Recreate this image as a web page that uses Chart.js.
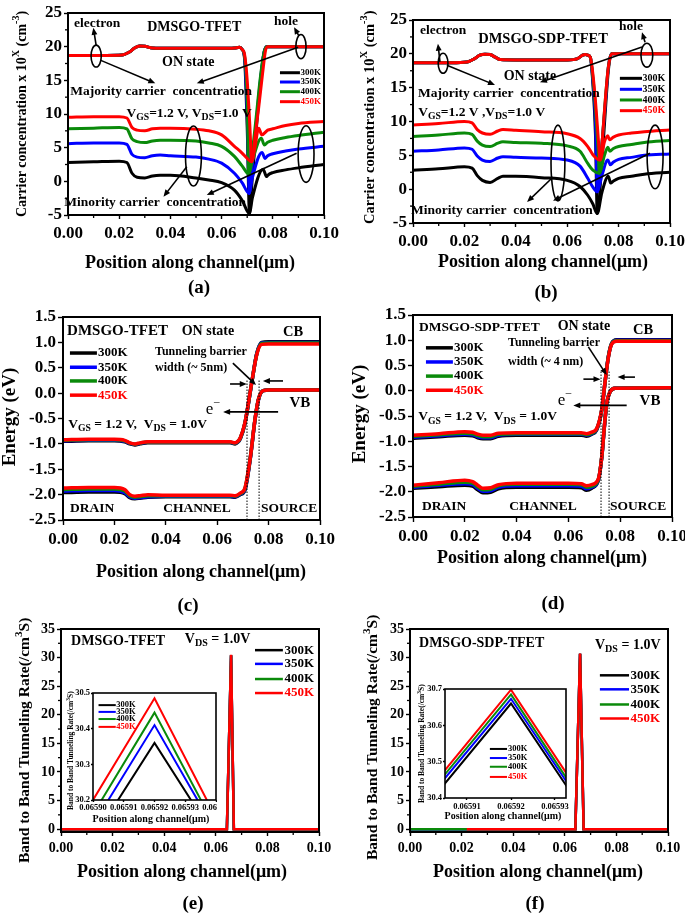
<!DOCTYPE html>
<html>
<head>
<meta charset="utf-8">
<script src="https://cdn.jsdelivr.net/npm/chart.js@4"></script>
<style>
  html, body { margin: 0; padding: 0; background: #fff; }
  #wrap { position: relative; width: 685px; height: 915px; overflow: hidden; background: #fff; }
  #wrap canvas { position: absolute; }
  .lab { position: absolute; font: bold 19px 'Liberation Serif', serif; transform: translate(-50%, -50%); }
</style>
</head>
<body>
<div id="wrap"></div>
<script>
const FAM = "'Liberation Serif', 'Times New Roman', serif";

// ---- shared labels / ticks ----
const TEMPS = ['300K', '350K', '400K', '450K'];
const COLORS = ['#000000', '#0000ff', '#0a8a0a', '#ff0000'];
const X_TICKS = [0, 0.02, 0.04, 0.06, 0.08, 0.1];
const Y_TICKS_AB = [-5, 0, 5, 10, 15, 20, 25];
const Y_TICKS_CD = [-2.5, -2, -1.5, -1, -0.5, 0, 0.5, 1, 1.5];
const Y_TICKS_EF = [0, 5, 10, 15, 20, 25, 30, 35];
const X_TICKS_IN_E = [0.0659, 0.06591, 0.06592, 0.06593, 0.06594];
const Y_TICKS_IN_E = [30.2, 30.3, 30.4, 30.5];
const X_TICKS_IN_F = [0.06591, 0.06592, 0.06593];
const Y_TICKS_IN_F = [30.4, 30.5, 30.6, 30.7];

// ---- (a) carrier concentration, DMSGO-TFET ----
const EL_A_TOP = [[0,18.7],[0.015,18.7],[0.021,18.75],[0.024,19.2],[0.026,19.8],[0.028,20.1],[0.03,20.05],[0.033,19.8],[0.04,19.75],[0.05,19.75],[0.06,19.75],[0.065,19.8],[0.067,19.9],[0.068,19.6]];
const EL_A_300 = [[0.069,18.0],[0.070,8],[0.0709,-4.8],[0.072,-2.5],[0.0762,1.8],[0.0776,0.7],[0.078,0.9],[0.08,1.3],[0.085,1.7],[0.09,2.0],[0.1,2.5]];
const EL_A_350 = [[0.069,18.3],[0.070,10],[0.0708,-1.8],[0.072,0.5],[0.0758,4.3],[0.077,3.4],[0.078,3.8],[0.08,4.1],[0.085,4.5],[0.09,4.8],[0.1,5.2]];
const EL_A_400 = [[0.069,18.5],[0.070,12],[0.0706,1.1],[0.072,3.0],[0.0755,6.4],[0.0767,5.4],[0.078,5.8],[0.08,6.1],[0.085,6.5],[0.09,6.8],[0.1,7.3]];
const EL_A_450 = [[0.069,18.8],[0.070,15],[0.071,8.5],[0.0718,2.9],[0.073,5.0],[0.0745,7.9],[0.0757,6.9],[0.078,7.6],[0.08,7.8],[0.085,8.3],[0.09,8.6],[0.1,8.9]];
const HO_A_300 = [[0,2.8],[0.01,2.9],[0.02,3.0],[0.023,2.8],[0.025,1.2],[0.027,0.6],[0.03,0.5],[0.033,0.8],[0.036,0.9],[0.04,0.9],[0.05,0.5],[0.055,0.2],[0.06,-0.2],[0.065,-1.3],[0.068,-2.8],[0.0709,-4.8],[0.072,0.5],[0.0735,7.5],[0.075,14],[0.0765,19],[0.0775,20],[0.08,20],[0.1,20]];
const HO_A_350 = [[0,5.6],[0.01,5.7],[0.02,5.7],[0.023,5.5],[0.025,4.0],[0.027,3.6],[0.03,3.5],[0.033,3.8],[0.036,3.9],[0.04,3.8],[0.05,3.6],[0.055,3.3],[0.06,2.7],[0.065,1.2],[0.068,-0.2],[0.0708,-1.8],[0.072,2.5],[0.0735,8.5],[0.075,14.5],[0.0765,19],[0.0775,20],[0.08,20],[0.1,20]];
const HO_A_400 = [[0,7.8],[0.01,7.9],[0.02,8.0],[0.023,7.8],[0.025,6.3],[0.027,5.9],[0.03,5.75],[0.033,6.0],[0.036,6.1],[0.04,6.1],[0.05,6.0],[0.055,5.7],[0.06,5.2],[0.065,3.7],[0.068,2.3],[0.0706,1.1],[0.072,4.5],[0.0735,9.5],[0.075,15],[0.0765,19],[0.0775,20],[0.08,20],[0.1,20]];
const HO_A_450 = [[0,9.5],[0.01,9.6],[0.02,9.6],[0.023,9.4],[0.025,8.0],[0.027,7.6],[0.03,7.5],[0.033,7.8],[0.036,7.9],[0.04,7.9],[0.05,7.75],[0.055,7.5],[0.06,6.9],[0.065,5.2],[0.068,4.2],[0.070,3.4],[0.0718,2.9],[0.073,6.5],[0.0745,11],[0.076,16],[0.0772,19.5],[0.078,20],[0.08,20],[0.1,20]];

// ---- (b) carrier concentration, DMSGO-SDP-TFET ----
const EL_B_TOP = [[0,18.7],[0.015,18.7],[0.021,18.8],[0.024,19.3],[0.026,19.8],[0.028,19.95],[0.03,19.9],[0.032,19.5],[0.034,19.15],[0.04,19.1],[0.05,19.1],[0.06,19.1],[0.064,19.3],[0.066,19.8],[0.067,19.9],[0.068,19.8],[0.069,19.5]];
const EL_B_300 = [[0.070,15.5],[0.071,8],[0.0717,-3.6],[0.0735,-0.5],[0.076,1.9],[0.0769,0.9],[0.078,1.2],[0.08,1.6],[0.085,1.9],[0.09,2.2],[0.1,2.5]];
const EL_B_350 = [[0.070,16],[0.071,10],[0.0717,-0.4],[0.0735,2],[0.0758,4.3],[0.0768,3.6],[0.078,4.0],[0.08,4.4],[0.085,4.7],[0.09,5.0],[0.1,5.2]];
const EL_B_400 = [[0.070,16.5],[0.071,12],[0.072,6],[0.0725,2.35],[0.0745,5],[0.0758,6.2],[0.0766,5.6],[0.078,6.0],[0.08,6.3],[0.085,6.6],[0.09,6.9],[0.1,7.2]];
const EL_B_450 = [[0.070,17],[0.071,13],[0.072,8],[0.0728,4.3],[0.0745,7],[0.0758,7.9],[0.0764,7.3],[0.078,7.7],[0.08,8.0],[0.085,8.3],[0.09,8.5],[0.1,8.75]];
const HO_B_300 = [[0,2.8],[0.01,3.0],[0.02,3.3],[0.023,3.1],[0.025,2.0],[0.027,1.3],[0.03,1.0],[0.033,1.6],[0.035,1.9],[0.04,1.9],[0.05,1.7],[0.06,1.3],[0.065,0.4],[0.068,-0.9],[0.070,-2.2],[0.0717,-3.6],[0.0735,4],[0.075,12.5],[0.076,17.5],[0.0772,20],[0.08,20],[0.1,20]];
const HO_B_350 = [[0,5.6],[0.01,5.8],[0.02,6.1],[0.023,5.9],[0.025,4.9],[0.027,4.3],[0.03,4.1],[0.033,4.6],[0.035,4.8],[0.04,4.7],[0.05,4.6],[0.06,4.3],[0.065,3.4],[0.068,1.6],[0.070,0.3],[0.0717,-0.4],[0.0735,6.5],[0.075,13.5],[0.076,18],[0.0772,20],[0.08,20],[0.1,20]];
const HO_B_400 = [[0,7.8],[0.01,8.0],[0.02,8.3],[0.023,8.1],[0.025,7.1],[0.027,6.5],[0.03,6.3],[0.033,6.8],[0.035,7.0],[0.04,6.9],[0.05,6.8],[0.06,6.4],[0.065,5.6],[0.068,3.8],[0.070,2.8],[0.0725,2.35],[0.0738,8],[0.075,14],[0.076,18],[0.0772,20],[0.08,20],[0.1,20]];
const HO_B_450 = [[0,9.5],[0.01,9.7],[0.02,10.0],[0.023,9.8],[0.025,8.8],[0.027,8.3],[0.03,8.1],[0.033,8.6],[0.035,8.8],[0.04,8.7],[0.05,8.5],[0.06,8.2],[0.065,7.5],[0.068,6.3],[0.070,5.1],[0.0728,4.3],[0.074,9],[0.075,14],[0.076,18],[0.0773,20],[0.08,20],[0.1,20]];

// ---- (c) energy bands, DMSGO-TFET ----
const CB_C_300 = [[0,-0.95],[0.01,-0.94],[0.02,-0.94],[0.024,-0.96],[0.026,-1.0],[0.028,-1.02],[0.03,-1.0],[0.033,-0.98],[0.04,-0.98],[0.05,-0.98],[0.06,-0.98],[0.065,-0.98],[0.067,-1.0],[0.068,-0.97],[0.069,-0.9],[0.0708,-0.6],[0.0734,0.19],[0.0754,0.78],[0.0773,1.0],[0.08,1.01],[0.09,1.01],[0.1,1.01]];
const CB_C_350 = [[0,-0.94],[0.01,-0.93],[0.02,-0.93],[0.024,-0.95],[0.026,-0.99],[0.028,-1.01],[0.03,-0.99],[0.033,-0.97],[0.04,-0.97],[0.05,-0.97],[0.06,-0.97],[0.065,-0.97],[0.067,-0.99],[0.068,-0.96],[0.069,-0.89],[0.0708,-0.59],[0.0734,0.19],[0.0754,0.78],[0.0773,0.99],[0.08,1.0],[0.09,1.0],[0.1,1.0]];
const CB_C_400 = [[0,-0.93],[0.01,-0.92],[0.02,-0.92],[0.024,-0.94],[0.026,-0.985],[0.028,-1.005],[0.03,-0.985],[0.033,-0.965],[0.04,-0.965],[0.05,-0.965],[0.06,-0.965],[0.065,-0.965],[0.067,-0.985],[0.068,-0.955],[0.069,-0.885],[0.0708,-0.585],[0.0734,0.195],[0.0754,0.77],[0.0773,0.98],[0.08,0.99],[0.09,0.99],[0.1,0.99]];
const CB_C_450 = [[0,-0.92],[0.01,-0.91],[0.02,-0.91],[0.024,-0.93],[0.026,-0.98],[0.028,-1.0],[0.03,-0.98],[0.033,-0.96],[0.04,-0.96],[0.05,-0.96],[0.06,-0.96],[0.065,-0.96],[0.067,-0.98],[0.068,-0.95],[0.069,-0.88],[0.0708,-0.58],[0.0734,0.2],[0.0754,0.76],[0.0773,0.96],[0.08,0.97],[0.09,0.97],[0.1,0.97]];
const VB_C_300 = [[0,-1.96],[0.01,-1.95],[0.02,-1.95],[0.024,-1.98],[0.026,-2.06],[0.028,-2.08],[0.03,-2.07],[0.033,-2.05],[0.04,-2.04],[0.05,-2.04],[0.06,-2.04],[0.065,-2.04],[0.067,-2.05],[0.069,-2.0],[0.0708,-1.91],[0.0728,-1.32],[0.0747,-0.53],[0.076,-0.14],[0.0779,0.05],[0.08,0.06],[0.1,0.06]];
const VB_C_350 = [[0,-1.93],[0.01,-1.92],[0.02,-1.92],[0.024,-1.96],[0.026,-2.04],[0.028,-2.07],[0.03,-2.06],[0.033,-2.04],[0.04,-2.03],[0.05,-2.03],[0.06,-2.03],[0.065,-2.03],[0.067,-2.04],[0.069,-1.99],[0.0708,-1.9],[0.0728,-1.31],[0.0747,-0.53],[0.076,-0.14],[0.0779,0.05],[0.08,0.06],[0.1,0.06]];
const VB_C_400 = [[0,-1.9],[0.01,-1.89],[0.02,-1.89],[0.024,-1.93],[0.026,-2.02],[0.028,-2.05],[0.03,-2.04],[0.033,-2.02],[0.04,-2.02],[0.05,-2.02],[0.06,-2.02],[0.065,-2.02],[0.067,-2.03],[0.069,-1.98],[0.0708,-1.88],[0.0728,-1.3],[0.0747,-0.52],[0.076,-0.13],[0.0779,0.05],[0.08,0.06],[0.1,0.06]];
const VB_C_450 = [[0,-1.87],[0.01,-1.86],[0.02,-1.86],[0.024,-1.9],[0.026,-2.0],[0.028,-2.03],[0.03,-2.02],[0.033,-2.0],[0.04,-2.01],[0.05,-2.01],[0.06,-2.01],[0.065,-2.01],[0.067,-2.02],[0.069,-1.97],[0.0708,-1.87],[0.0728,-1.3],[0.0747,-0.52],[0.076,-0.13],[0.0779,0.05],[0.08,0.06],[0.1,0.06]];

// ---- (d) energy bands, DMSGO-SDP-TFET ----
const CB_D_300 = [[0,-0.94],[0.01,-0.91],[0.02,-0.88],[0.023,-0.89],[0.025,-0.93],[0.027,-0.95],[0.03,-0.95],[0.033,-0.9],[0.04,-0.88],[0.05,-0.88],[0.06,-0.88],[0.065,-0.88],[0.067,-0.9],[0.069,-0.86],[0.0709,-0.78],[0.0729,-0.38],[0.0741,0.15],[0.0754,0.67],[0.0767,0.94],[0.0786,1.01],[0.1,1.01]];
const CB_D_350 = [[0,-0.92],[0.01,-0.89],[0.02,-0.86],[0.023,-0.87],[0.025,-0.91],[0.027,-0.93],[0.03,-0.93],[0.033,-0.88],[0.04,-0.86],[0.05,-0.86],[0.06,-0.86],[0.065,-0.86],[0.067,-0.88],[0.069,-0.85],[0.0709,-0.77],[0.0729,-0.37],[0.0741,0.15],[0.0754,0.66],[0.0767,0.93],[0.0786,1.0],[0.1,1.0]];
const CB_D_400 = [[0,-0.9],[0.01,-0.87],[0.02,-0.84],[0.023,-0.85],[0.025,-0.89],[0.027,-0.91],[0.03,-0.91],[0.033,-0.86],[0.04,-0.85],[0.05,-0.85],[0.06,-0.85],[0.065,-0.85],[0.067,-0.87],[0.069,-0.84],[0.0709,-0.76],[0.0729,-0.37],[0.0741,0.15],[0.0754,0.66],[0.0767,0.93],[0.0786,0.99],[0.1,0.99]];
const CB_D_450 = [[0,-0.88],[0.01,-0.85],[0.02,-0.81],[0.023,-0.82],[0.025,-0.86],[0.027,-0.88],[0.03,-0.88],[0.033,-0.84],[0.04,-0.83],[0.05,-0.83],[0.06,-0.83],[0.065,-0.83],[0.067,-0.85],[0.069,-0.82],[0.0709,-0.75],[0.0729,-0.36],[0.0741,0.15],[0.0754,0.65],[0.0767,0.92],[0.0786,0.98],[0.1,0.98]];
const VB_D_300 = [[0,-1.93],[0.01,-1.9],[0.02,-1.87],[0.023,-1.89],[0.025,-1.96],[0.027,-2.02],[0.03,-2.01],[0.033,-1.94],[0.04,-1.91],[0.05,-1.91],[0.06,-1.91],[0.065,-1.92],[0.067,-1.97],[0.069,-1.93],[0.0716,-1.77],[0.0729,-1.31],[0.0739,-0.71],[0.0748,-0.25],[0.0761,-0.02],[0.078,0.05],[0.1,0.06]];
const VB_D_350 = [[0,-1.91],[0.01,-1.87],[0.02,-1.84],[0.023,-1.86],[0.025,-1.93],[0.027,-1.99],[0.03,-1.98],[0.033,-1.91],[0.04,-1.88],[0.05,-1.88],[0.06,-1.88],[0.065,-1.89],[0.067,-1.94],[0.069,-1.91],[0.0716,-1.76],[0.0729,-1.31],[0.0739,-0.71],[0.0748,-0.25],[0.0761,-0.02],[0.078,0.05],[0.1,0.06]];
const VB_D_400 = [[0,-1.89],[0.01,-1.85],[0.02,-1.81],[0.023,-1.83],[0.025,-1.9],[0.027,-1.96],[0.03,-1.95],[0.033,-1.88],[0.04,-1.85],[0.05,-1.85],[0.06,-1.85],[0.065,-1.86],[0.067,-1.91],[0.069,-1.89],[0.0716,-1.75],[0.0729,-1.3],[0.0739,-0.7],[0.0748,-0.25],[0.0761,-0.02],[0.078,0.05],[0.1,0.06]];
const VB_D_450 = [[0,-1.87],[0.01,-1.82],[0.02,-1.77],[0.023,-1.8],[0.025,-1.87],[0.027,-1.93],[0.03,-1.92],[0.033,-1.86],[0.04,-1.83],[0.05,-1.83],[0.06,-1.83],[0.065,-1.84],[0.067,-1.88],[0.069,-1.86],[0.0716,-1.74],[0.0729,-1.3],[0.0739,-0.7],[0.0748,-0.25],[0.0761,-0.02],[0.078,0.05],[0.1,0.06]];

// ---- (e),(f) band to band tunneling rate ----
const BTBT_E_300 = [[0,0],[0.0643,0],[0.06592,30.36],[0.0670,0],[0.1,0]];
const BTBT_E_350 = [[0,0],[0.0643,0],[0.06592,30.41],[0.0670,0],[0.1,0]];
const BTBT_E_400 = [[0,0],[0.0643,0],[0.06592,30.445],[0.0670,0],[0.1,0]];
const BTBT_E_450 = [[0,0],[0.0643,0],[0.06592,30.485],[0.0670,0],[0.1,0]];
const BTBT_F_300 = [[0,0],[0.0641,0],[0.06592,30.66],[0.0673,0],[0.1,0]];
const BTBT_F_350 = [[0,0],[0.0641,0],[0.06592,30.673],[0.0673,0],[0.1,0]];
const BTBT_F_400 = [[0,0],[0.0641,0],[0.06592,30.685],[0.0673,0],[0.1,0]];
const BTBT_F_450 = [[0.022,0],[0.0641,0],[0.06592,30.698],[0.0673,0],[0.1,0]];
// insets (zoom on the peak)
const IN_E_300 = [[0.0659,30.09],[0.06592,30.36],[0.06594,30.09]];
const IN_E_350 = [[0.0659,30.13],[0.06592,30.41],[0.06594,30.11]];
const IN_E_400 = [[0.0659,30.16],[0.06592,30.445],[0.06594,30.12]];
const IN_E_450 = [[0.0659,30.2],[0.06592,30.485],[0.06594,30.15]];
const IN_F_300 = [[0.0659,30.367],[0.06592,30.66],[0.06594,30.30]];
const IN_F_350 = [[0.0659,30.382],[0.06592,30.673],[0.06594,30.311]];
const IN_F_400 = [[0.0659,30.392],[0.06592,30.685],[0.06594,30.32]];
const IN_F_450 = [[0.0659,30.403],[0.06592,30.698],[0.06594,30.333]];

// ---------------------------------------------------------------
const wrap = document.getElementById('wrap');

function ds(pts, k, lw) {
  return { data: pts.map(([x, y]) => ({ x, y })), borderColor: COLORS[k], borderWidth: lw,
           order: 3 - k, pointRadius: 0, fill: false };
}

function richText(ctx, segs, x, y, size, align, color, weight) {
  if (typeof segs === 'string') segs = [[segs, '']];
  const w8 = weight || 'bold';
  const parts = segs.map(([t, m]) => ({ t, m, s: m ? size * 0.72 : size }));
  let tot = 0;
  parts.forEach(p => { ctx.font = `${w8} ${p.s}px ${FAM}`; p.w = ctx.measureText(p.t).width; tot += p.w; });
  let cx = align === 'center' ? x - tot / 2 : align === 'right' ? x - tot : x;
  ctx.textAlign = 'left';
  ctx.textBaseline = 'middle';
  ctx.fillStyle = color || '#000';
  parts.forEach(p => {
    ctx.font = `${w8} ${p.s}px ${FAM}`;
    const dy = p.m === 'sub' ? size * 0.3 : p.m === 'sup' ? -size * 0.38 : 0;
    ctx.fillText(p.t, cx, y + dy);
    cx += p.w;
  });
}

function arrow(ctx, x1, y1, x2, y2, h) {
  const a = Math.atan2(y2 - y1, x2 - x1);
  ctx.beginPath(); ctx.moveTo(x1, y1);
  ctx.lineTo(x2 - Math.cos(a) * h * 0.6, y2 - Math.sin(a) * h * 0.6); ctx.stroke();
  ctx.beginPath(); ctx.moveTo(x2, y2);
  ctx.lineTo(x2 - h * Math.cos(a) + h * 0.42 * Math.sin(a), y2 - h * Math.sin(a) - h * 0.42 * Math.cos(a));
  ctx.lineTo(x2 - h * Math.cos(a) - h * 0.42 * Math.sin(a), y2 - h * Math.sin(a) + h * 0.42 * Math.cos(a));
  ctx.closePath(); ctx.fill();
}

function annPlugin(g, cfg) {
  const A = cfg.ann || {};
  return {
    id: 'ann',
    beforeDatasetsDraw(chart) {
      if (!A.white) return;
      const c = chart.chartArea;
      chart.ctx.fillStyle = '#fff';
      chart.ctx.fillRect(c.left, c.top, c.width, c.height);
    },
    afterDraw(chart) {
      const ctx = chart.ctx, ca = chart.chartArea, xs = chart.scales.x, ys = chart.scales.y;
      const X = v => xs.getPixelForValue(v), Y = v => ys.getPixelForValue(v);
      ctx.save();
      ctx.strokeStyle = '#000'; ctx.fillStyle = '#000';
      ctx.lineWidth = cfg.frame;
      ctx.strokeRect(ca.left, ca.top, ca.width, ca.height);
      if (cfg.minor) {
        ctx.lineWidth = 1.3;
        const xt = cfg.xt, yt = cfg.yt;
        for (let i = 0; i < xt.length - 1; i++) {
          const px = X((xt[i] + xt[i + 1]) / 2);
          ctx.beginPath(); ctx.moveTo(px, ca.bottom); ctx.lineTo(px, ca.bottom + 3); ctx.stroke();
        }
        for (let i = 0; i < yt.length - 1; i++) {
          const py = Y((yt[i] + yt[i + 1]) / 2);
          ctx.beginPath(); ctx.moveTo(ca.left, py); ctx.lineTo(ca.left - 3, py); ctx.stroke();
        }
      }
      (A.vlines || []).forEach(([x, y0, y1]) => {
        ctx.lineWidth = 1; ctx.setLineDash([1.5, 1.5]);
        ctx.beginPath(); ctx.moveTo(X(x), Y(y0)); ctx.lineTo(X(x), Y(y1)); ctx.stroke();
        ctx.setLineDash([]);
      });
      (A.ellipses || []).forEach(([x, y, rx, ry]) => {
        ctx.lineWidth = 1.6;
        ctx.beginPath();
        ctx.ellipse(X(x), Y(y), Math.abs(X(x + rx) - X(x)), Math.abs(Y(y + ry) - Y(y)), 0, 0, Math.PI * 2);
        ctx.stroke();
      });
      (A.arrows || []).forEach(([x1, y1, x2, y2]) => {
        ctx.lineWidth = 1.6;
        arrow(ctx, X(x1), Y(y1), X(x2), Y(y2), A.head || 7);
      });
      if (A.legend) {
        const L = A.legend;
        TEMPS.forEach((t, k) => {
          const py = Y(L.rows[k]);
          ctx.strokeStyle = COLORS[k]; ctx.lineWidth = L.lw;
          ctx.beginPath(); ctx.moveTo(X(L.x1), py); ctx.lineTo(X(L.x2), py); ctx.stroke();
          richText(ctx, t, X(L.xt), py, L.size, 'left', k === 3 ? '#ff0000' : '#000');
        });
        ctx.strokeStyle = '#000';
      }
      (A.texts || []).forEach(([segs, x, y, size, align, weight]) => {
        richText(ctx, segs, X(x), Y(y), size, align || 'center', '#000', weight);
      });
      (A.titles || []).forEach(t => {
        const cx = t.x - g.left, cy = t.y - g.top;
        ctx.save();
        ctx.translate(cx, cy);
        if (t.rot) ctx.rotate(-Math.PI / 2);
        richText(ctx, t.segs, 0, 0, t.size, t.align || 'center', '#000');
        ctx.restore();
      });
      ctx.restore();
    }
  };
}

function panel(g, cfg) {
  const cv = document.createElement('canvas');
  cv.width = g.w; cv.height = g.h;
  cv.style.left = g.left + 'px'; cv.style.top = g.top + 'px';
  cv.style.width = g.w + 'px'; cv.style.height = g.h + 'px';
  cv.style.zIndex = cfg.z || 1;
  wrap.appendChild(cv);
  const tf = { family: FAM, size: cfg.tick, weight: 'bold' };
  return new Chart(cv, {
    type: 'line',
    data: { datasets: cfg.datasets },
    options: {
      responsive: false, animation: false, devicePixelRatio: 1, events: [],
      layout: { autoPadding: false, padding: { left: 0, top: g.T - g.top, right: g.left + g.w - g.R, bottom: 0 } },
      plugins: { legend: { display: false }, tooltip: { enabled: false } },
      elements: { point: { radius: 0 }, line: { tension: 0, cubicInterpolationMode: cfg.mono ? 'monotone' : 'default' } },
      scales: {
        x: {
          type: 'linear', min: cfg.xr[0], max: cfg.xr[1], bounds: 'data',
          afterBuildTicks: s => { s.ticks = cfg.xt.map(v => ({ value: v })); },
          afterFit: s => { s.height = g.top + g.h - g.B; s.paddingLeft = 0; s.paddingRight = 0; },
          ticks: { font: tf, color: '#000', autoSkip: false, maxRotation: 0, minRotation: 0, padding: cfg.xpad,
                   callback: v => Number(v).toFixed(cfg.xd) },
          grid: { drawOnChartArea: false, tickLength: cfg.tl, tickColor: '#000', tickWidth: 1.4 },
          border: { display: false }
        },
        y: {
          type: 'linear', min: cfg.yr[0], max: cfg.yr[1], bounds: 'data',
          afterBuildTicks: s => { s.ticks = cfg.yt.map(v => ({ value: v })); },
          afterFit: s => { s.width = g.L - g.left; s.paddingTop = 0; s.paddingBottom = 0; },
          ticks: { font: tf, color: '#000', autoSkip: false, padding: cfg.ypad,
                   callback: v => Number(v).toFixed(cfg.yd) },
          grid: { drawOnChartArea: false, tickLength: cfg.tl, tickColor: '#000', tickWidth: 1.4 },
          border: { display: false }
        }
      }
    },
    plugins: [annPlugin(g, cfg)]
  });
}

const XT = 'Position along channel(\u03bcm)';
const CARRIER_T = [['Carrier concentration x 10', ''], ['X', 'sup'], [' (cm', ''], ['-3', 'sup'], [')', '']];
const BTBT_T = [['Band to Band Tunneling Rate(/cm', ''], ['3', 'sup'], ['S)', '']];
const VGS_A = [['V', ''], ['GS', 'sub'], ['=1.2 V, V', ''], ['DS', 'sub'], ['=1.0 V', '']];
const VGS_B = [['V', ''], ['GS', 'sub'], ['=1.2 V ,V', ''], ['DS', 'sub'], ['=1.0 V', '']];
const VGS_C = [['V', ''], ['GS', 'sub'], [' = 1.2 V,  V', ''], ['DS', 'sub'], [' = 1.0V', '']];
const VDS_E = [['V', ''], ['DS', 'sub'], [' = 1.0V', '']];
const EM = [['e', ''], ['\u2212', 'sup']];

// ---- (a) ----
const TAILS_A = [EL_A_300, EL_A_350, EL_A_400, EL_A_450];
const HOLES_A = [HO_A_300, HO_A_350, HO_A_400, HO_A_450];
const GA = { left: 0, top: 0, w: 340, h: 300, L: 68, T: 13, R: 324, B: 215 };
panel(GA, {
  datasets: [0, 1, 2, 3].flatMap(k => [ds(EL_A_TOP.concat(TAILS_A[k]), k, 3), ds(HOLES_A[k], k, 3)]),
  xr: [0, 0.1], yr: [-5, 25], xt: X_TICKS, yt: Y_TICKS_AB, xd: 2, yd: 0, tick: 17, tl: 4, xpad: 4, ypad: 2,
  frame: 2, minor: true, mono: true,
  ann: {
    texts: [
      ['electron', 0.0114, 23.5, 13.5], ['DMSGO-TFET', 0.0493, 22.9, 14], ['hole', 0.0852, 23.8, 13.5],
      ['ON state', 0.047, 17.7, 14], ['Majority carrier  concentration', 0.0364, 13.4, 13.5],
      [VGS_A, 0.0473, 10.1, 13.5], ['Minority carrier  concentration', 0.034, -3.1, 13.5]
    ],
    ellipses: [[0.011, 18.6, 0.002, 1.63], [0.091, 20, 0.002, 1.8], [0.049, 3.76, 0.0031, 4.46], [0.093, 4.05, 0.0031, 4.2]],
    arrows: [[0.011, 20.2, 0.0099, 22.8], [0.0126, 18.0, 0.0341, 14.56], [0.0902, 21.6, 0.0883, 22.9],
             [0.0899, 19.9, 0.0503, 14.56], [0.0464, 2.17, 0.0373, -2.28], [0.0893, 4.16, 0.0542, -2.03]],
    legend: { x1: 0.0828, x2: 0.0906, xt: 0.0908, rows: [16.13, 14.75, 13.31, 11.83], size: 9, lw: 3 },
    titles: [
      { segs: XT, x: 190, y: 263, size: 18 },
      { segs: CARRIER_T, x: 22, y: 217, size: 14, rot: true, align: 'left' }
    ]
  }
});

// ---- (b) ----
const TAILS_B = [EL_B_300, EL_B_350, EL_B_400, EL_B_450];
const HOLES_B = [HO_B_300, HO_B_350, HO_B_400, HO_B_450];
const GB = { left: 340, top: 0, w: 345, h: 300, L: 413, T: 20, R: 670, B: 223 };
panel(GB, {
  datasets: [0, 1, 2, 3].flatMap(k => [ds(EL_B_TOP.concat(TAILS_B[k]), k, 3), ds(HOLES_B[k], k, 3)]),
  xr: [0, 0.1], yr: [-5, 25], xt: X_TICKS, yt: Y_TICKS_AB, xd: 2, yd: 0, tick: 17, tl: 4, xpad: 4, ypad: 2,
  frame: 2, minor: true, mono: true,
  ann: {
    texts: [
      ['electron', 0.0117, 23.4, 13.5], ['DMSGO-SDP-TFET', 0.0506, 22.1, 14.5], ['hole', 0.0848, 24.0, 13.5],
      ['ON state', 0.0455, 16.7, 14], ['Majority carrier  concentration', 0.0373, 14.1, 13.5],
      [VGS_B, 0.002, 11.3, 13.5, 'left'], ['Minority carrier  concentration', 0.0346, -3.2, 13.5]
    ],
    ellipses: [[0.0117, 18.6, 0.0019, 1.48], [0.091, 19.8, 0.0023, 1.77], [0.0564, 3.87, 0.0027, 5.6], [0.0942, 4.76, 0.0031, 4.7]],
    arrows: [[0.0105, 18.8, 0.0097, 21.5], [0.0132, 18.3, 0.0319, 15.4], [0.0903, 21.7, 0.0891, 23.2],
             [0.0891, 21.0, 0.0494, 15.8], [0.0545, 1.8, 0.0444, -1.9], [0.0922, 5.3, 0.0545, -1.7]],
    legend: { x1: 0.0805, x2: 0.0891, xt: 0.0893, rows: [16.38, 14.76, 13.18, 11.6], size: 10, lw: 3 },
    titles: [
      { segs: XT, x: 543, y: 262, size: 18 },
      { segs: CARRIER_T, x: 370, y: 224, size: 14.5, rot: true, align: 'left' }
    ]
  }
});

// ---- (c) ----
const CB_C = [CB_C_300, CB_C_350, CB_C_400, CB_C_450];
const VB_C = [VB_C_300, VB_C_350, VB_C_400, VB_C_450];
const GC = { left: 0, top: 300, w: 340, h: 300, L: 63, T: 317, R: 320, B: 520 };
panel(GC, {
  datasets: [0, 1, 2, 3].flatMap(k => [ds(CB_C[k], k, 3.5), ds(VB_C[k], k, 3.5)]),
  xr: [0, 0.1], yr: [-2.5, 1.5], xt: X_TICKS, yt: Y_TICKS_CD, xd: 2, yd: 1, tick: 17, tl: 5, xpad: 4, ypad: 2,
  frame: 2, minor: false, mono: true,
  ann: {
    texts: [
      ['DMSGO-TFET', 0.0016, 1.22, 15, 'left'], ['ON state', 0.0564, 1.22, 14], ['CB', 0.0895, 1.2, 14.5],
      ['Tunneling barrier', 0.0358, 0.81, 12, 'left'], ['width (~ 5nm)', 0.0358, 0.5, 12, 'left'],
      [EM, 0.0584, -0.33, 17, 'center', 'normal'], ['VB', 0.0922, -0.19, 15],
      [VGS_C, 0.002, -0.61, 13.5, 'left'],
      ['DRAIN', 0.0027, -2.28, 13.5, 'left'], ['CHANNEL', 0.0521, -2.28, 13.5], ['SOURCE', 0.088, -2.28, 13.5]
    ],
    arrows: [[0.0661, 0.59, 0.0751, 0.16], [0.065, 0.18, 0.0715, 0.18], [0.0856, 0.24, 0.0778, 0.24], [0.0837, -0.37, 0.0623, -0.37]],
    vlines: [[0.0716, -2.5, 0.25], [0.0763, -2.5, 0.25]],
    legend: { x1: 0.0027, x2: 0.0132, xt: 0.0136, rows: [0.79, 0.51, 0.24, -0.04], size: 13, lw: 3.5 },
    titles: [
      { segs: XT, x: 201, y: 572, size: 18 },
      { segs: 'Energy (eV)', x: 10, y: 417, size: 19, rot: true }
    ]
  }
});

// ---- (d) ----
const CB_D = [CB_D_300, CB_D_350, CB_D_400, CB_D_450];
const VB_D = [VB_D_300, VB_D_350, VB_D_400, VB_D_450];
const GD = { left: 340, top: 300, w: 345, h: 300, L: 413, T: 315, R: 672, B: 517 };
panel(GD, {
  datasets: [0, 1, 2, 3].flatMap(k => [ds(CB_D[k], k, 3.5), ds(VB_D[k], k, 3.5)]),
  xr: [0, 0.1], yr: [-2.5, 1.5], xt: X_TICKS, yt: Y_TICKS_CD, xd: 2, yd: 1, tick: 17, tl: 5, xpad: 4, ypad: 2,
  frame: 2, minor: false, mono: true,
  ann: {
    texts: [
      ['DMSGO-SDP-TFET', 0.0023, 1.26, 13.5, 'left'], ['ON state', 0.066, 1.28, 14], ['CB', 0.0888, 1.2, 14.5],
      ['Tunneling barrier', 0.0367, 0.95, 12, 'left'], ['width (~ 4 nm)', 0.0367, 0.57, 12, 'left'],
      [EM, 0.0587, -0.2, 17, 'center', 'normal'], ['VB', 0.0915, -0.2, 15],
      [VGS_C, 0.002, -0.52, 13.5, 'left'],
      ['DRAIN', 0.0035, -2.3, 13.5, 'left'], ['CHANNEL', 0.0502, -2.3, 13.5], ['SOURCE', 0.0869, -2.3, 13.5]
    ],
    arrows: [[0.0677, 0.87, 0.0748, 0.31], [0.0658, 0.23, 0.0724, 0.23], [0.0857, 0.27, 0.079, 0.27], [0.0825, -0.29, 0.0619, -0.29]],
    vlines: [[0.0726, -2.5, 0.4], [0.0757, -2.5, 0.4]],
    legend: { x1: 0.005, x2: 0.0154, xt: 0.0158, rows: [0.85, 0.57, 0.29, 0.01], size: 13, lw: 3.5 },
    titles: [
      { segs: XT, x: 542, y: 558, size: 18 },
      { segs: 'Energy (eV)', x: 360, y: 414, size: 19, rot: true }
    ]
  }
});

// ---- (e) ----
const BT_E = [BTBT_E_300, BTBT_E_350, BTBT_E_400, BTBT_E_450];
const GE = { left: 0, top: 600, w: 340, h: 315, L: 61, T: 629, R: 319, B: 832 };
panel(GE, {
  datasets: [0, 1, 2, 3].map(k => ds(BT_E[k], k, 2.5)),
  xr: [0, 0.1], yr: [-0.5, 35], xt: X_TICKS, yt: Y_TICKS_EF, xd: 2, yd: 0, tick: 14, tl: 4, xpad: 4, ypad: 2,
  frame: 2, minor: true,
  ann: {
    texts: [['DMSGO-TFET', 0.0039, 32.9, 14, 'left'], [VDS_E, 0.048, 33.25, 14, 'left']],
    legend: { x1: 0.0752, x2: 0.086, xt: 0.0866, rows: [31.3, 28.9, 26.25, 23.8], size: 13, lw: 2.5 },
    titles: [
      { segs: XT, x: 182, y: 872, size: 18 },
      { segs: BTBT_T, x: 25, y: 863, size: 15.5, rot: true, align: 'left' }
    ]
  }
});
const IE = [IN_E_300, IN_E_350, IN_E_400, IN_E_450];
const GIE = { left: 50, top: 683, w: 167, h: 145, L: 93, T: 693, R: 216, B: 800 };
panel(GIE, {
  datasets: [0, 1, 2, 3].map(k => ds(IE[k], k, 2)),
  xr: [0.0659, 0.06594], yr: [30.2, 30.5], xt: X_TICKS_IN_E, yt: Y_TICKS_IN_E, xd: 5, yd: 1, tick: 8.5, tl: 2, xpad: 1, ypad: 1,
  frame: 1.6, minor: false, z: 5,
  ann: {
    white: true,
    legend: { x1: 0.0659018, x2: 0.0659074, xt: 0.0659076, rows: [30.466, 30.447, 30.427, 30.405], size: 8.5, lw: 2 },
    head: 5,
    titles: [
      { segs: XT, x: 151, y: 819, size: 10 },
      { segs: BTBT_T, x: 71, y: 810, size: 7.5, rot: true, align: 'left' }
    ]
  }
});

// ---- (f) ----
const BT_F = [BTBT_F_300, BTBT_F_350, BTBT_F_400, BTBT_F_450];
const GF = { left: 340, top: 600, w: 345, h: 315, L: 410, T: 629, R: 668, B: 832 };
panel(GF, {
  datasets: [0, 1, 2, 3].map(k => ds(BT_F[k], k, 2.5)),
  xr: [0, 0.1], yr: [-0.5, 35], xt: X_TICKS, yt: Y_TICKS_EF, xd: 2, yd: 0, tick: 14, tl: 4, xpad: 4, ypad: 2,
  frame: 2, minor: true,
  ann: {
    texts: [['DMSGO-SDP-TFET', 0.0035, 32.5, 14, 'left'], [VDS_E, 0.0717, 32.2, 14, 'left']],
    legend: { x1: 0.0736, x2: 0.0849, xt: 0.0855, rows: [26.9, 24.45, 21.8, 19.35], size: 13, lw: 2.5 },
    titles: [
      { segs: XT, x: 538, y: 872, size: 18 },
      { segs: BTBT_T, x: 373, y: 860, size: 15.5, rot: true, align: 'left' }
    ]
  }
});
const IF = [IN_F_300, IN_F_350, IN_F_400, IN_F_450];
const GIF = { left: 400, top: 680, w: 170, h: 145, L: 445, T: 689, R: 566, B: 798 };
panel(GIF, {
  datasets: [0, 1, 2, 3].map(k => ds(IF[k], k, 2)),
  xr: [0.065905, 0.0659325], yr: [30.4, 30.7], xt: X_TICKS_IN_F, yt: Y_TICKS_IN_F, xd: 5, yd: 1, tick: 8.5, tl: 2, xpad: 2, ypad: 1,
  frame: 1.6, minor: false, z: 5,
  ann: {
    white: true,
    legend: { x1: 0.0659152, x2: 0.0659191, xt: 0.0659193, rows: [30.535, 30.51, 30.486, 30.458], size: 8.5, lw: 2 },
    titles: [
      { segs: XT, x: 503, y: 816, size: 10 },
      { segs: BTBT_T, x: 422, y: 803, size: 7.5, rot: true, align: 'left' }
    ]
  }
});

// panel letters
[['(a)', 199, 287], ['(b)', 546, 292], ['(c)', 188, 605], ['(d)', 553, 603], ['(e)', 193, 903], ['(f)', 535, 903]]
  .forEach(([t, x, y]) => {
    const d = document.createElement('div');
    d.className = 'lab'; d.textContent = t;
    d.style.left = x + 'px'; d.style.top = y + 'px';
    d.style.zIndex = 10;
    wrap.appendChild(d);
  });
</script>
</body>
</html>
